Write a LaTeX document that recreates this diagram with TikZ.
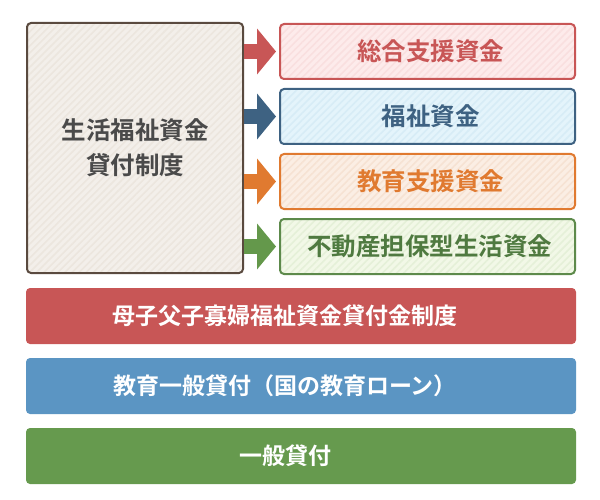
\documentclass[tikz,border=0pt]{standalone}
\usepackage{fontspec}
\newfontfamily\jp{Noto Sans CJK JP}[BoldFont={Noto Sans CJK JP Bold}]
\usetikzlibrary{arrows.meta,patterns.meta}
\definecolor{brownB}{HTML}{5A4A3F}
\definecolor{brownF}{HTML}{F3EFEA}
\definecolor{brownS}{HTML}{ECE6DE}
\definecolor{txtG}{HTML}{4A4A4A}
\definecolor{redB}{HTML}{C85656}
\definecolor{redF}{HTML}{FDEBEB}
\definecolor{redS}{HTML}{F9DFDF}
\definecolor{blueB}{HTML}{3E6282}
\definecolor{blueF}{HTML}{E4F4FB}
\definecolor{blueS}{HTML}{D7ECF6}
\definecolor{orgB}{HTML}{E07A30}
\definecolor{orgF}{HTML}{FBEEE4}
\definecolor{orgS}{HTML}{F6E2D3}
\definecolor{grnB}{HTML}{5D8A4B}
\definecolor{grnF}{HTML}{F2F8E7}
\definecolor{grnS}{HTML}{E5F0D8}
\definecolor{grnT}{HTML}{4F7A40}
\definecolor{barR}{HTML}{C85656}
\definecolor{barB}{HTML}{5B95C3}
\definecolor{barG}{HTML}{669A4E}
\definecolor{arrG}{HTML}{64984B}
\tikzset{
  stripebox/.style n args={3}{preaction={fill=#1},
    pattern={Lines[angle=45,distance=5pt,line width=1.6pt]}, pattern color=#2,
    draw=#3, line width=2pt, rounded corners=4pt},
  rbox/.style={minimum width=295pt, minimum height=55pt, inner sep=0pt,
    font=\jp\bfseries\fontsize{24.5}{30}\selectfont},
  bar/.style={fill=#1, rounded corners=4pt, minimum width=550pt, minimum height=56pt,
    inner sep=0pt, text=white, font=\jp\bfseries\fontsize{23}{28}\selectfont},
  fatarrow/.style={draw=#1, line width=15pt, -{Triangle[length=19pt,width=45pt]}, shorten >=3pt}
}
\begin{document}
\begin{tikzpicture}[x=1pt,y=-1pt]
\useasboundingbox (0,0) rectangle (600,500);
\node[stripebox={brownF}{brownS}{brownB}, minimum width=216pt, minimum height=250pt,
  inner sep=0pt, align=center, text=txtG, font=\jp\bfseries\fontsize{24.5}{35}\selectfont]
  (lb) at (135,148) {生活福祉資金\\貸付制度};
\node[rbox, stripebox={redF}{redS}{redB}, text=redB] (r1) at (427.5,51.5) {\hspace*{6pt}総合支援資金};
\node[rbox, stripebox={blueF}{blueS}{blueB}, text=blueB] (r2) at (427.5,116.5) {\hspace*{6pt}福祉資金};
\node[rbox, stripebox={orgF}{orgS}{orgB}, text=orgB] (r3) at (427.5,181.5) {\hspace*{6pt}教育支援資金};
\node[rbox, stripebox={grnF}{grnS}{grnB}, text=grnT] (r4) at (427.5,246.5) {\hspace*{4pt}不動産担保型生活資金};
\draw[fatarrow=redB] (lb.east |- r1.west) -- (r1.west);
\draw[fatarrow=blueB] (lb.east |- r2.west) -- (r2.west);
\draw[fatarrow=orgB] (lb.east |- r3.west) -- (r3.west);
\draw[fatarrow=arrG] (lb.east |- r4.west) -- (r4.west);
\node[bar=barR] (b1) at (301,316) {母子父子寡婦福祉資金貸付金制度\hspace*{32pt}};
\node[bar=barB] (b2) at (301,386) {教育一般貸付（国の教育ローン）\hspace*{32pt}};
\node[bar=barG] (b3) at (301,456) {一般貸付\hspace*{32pt}};
\end{tikzpicture}
\end{document}
